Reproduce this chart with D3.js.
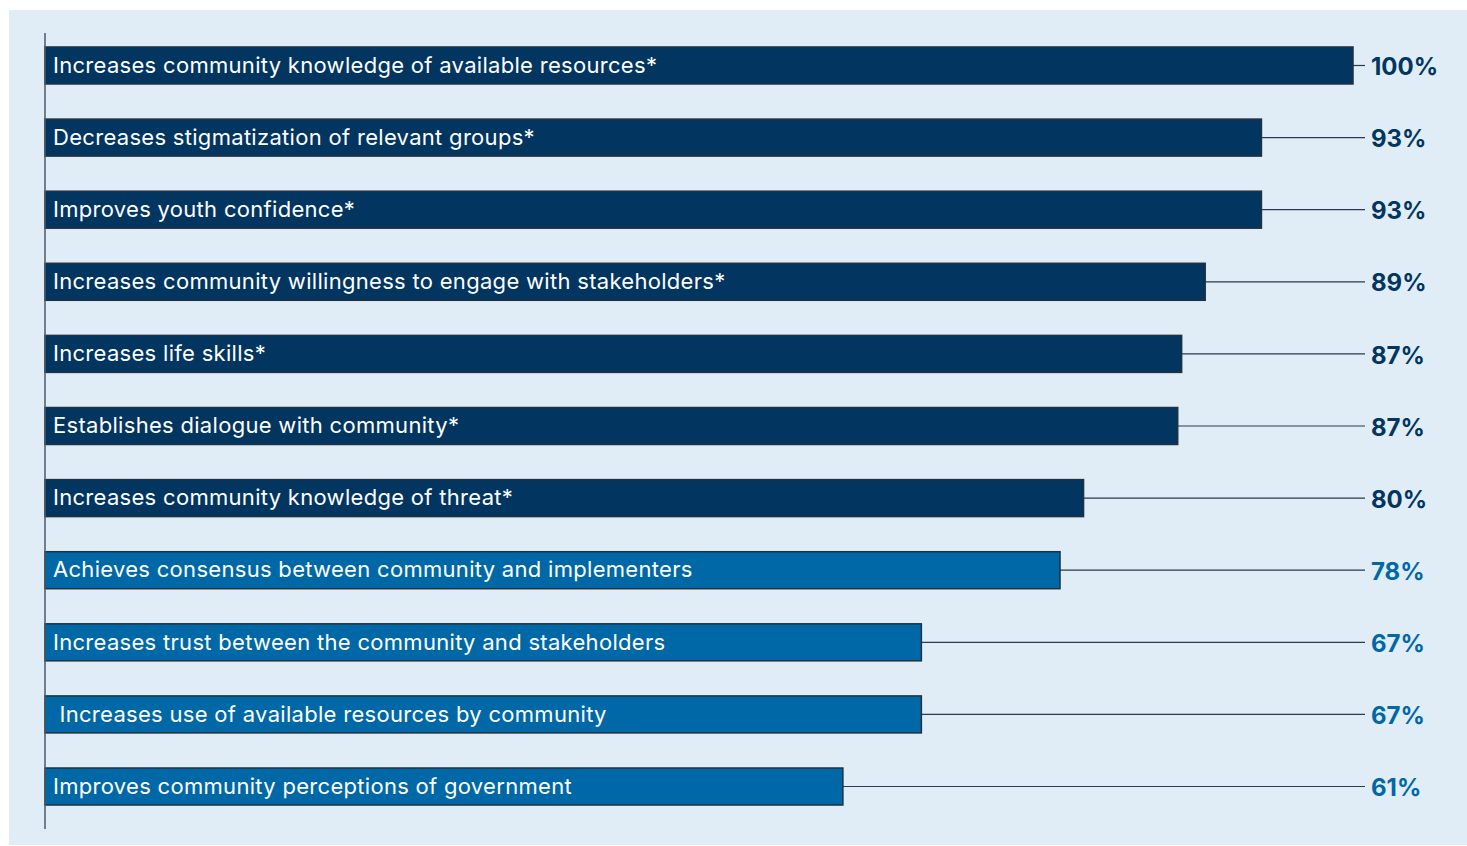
<!DOCTYPE html>
<html>
<head>
<meta charset="utf-8">
<script src="https://cdn.jsdelivr.net/npm/d3@7"></script>
<style>
  body { margin: 0; background: #fff; }
  svg { display: block; }
</style>
</head>
<body>
<svg id="chart" width="1467" height="846"></svg>
<script>
// categories, top to bottom
const categories = [
  "Increases community knowledge of available resources*",
  "Decreases stigmatization of relevant groups*",
  "Improves youth confidence*",
  "Increases community willingness to engage with stakeholders*",
  "Increases life skills*",
  "Establishes dialogue with community*",
  "Increases community knowledge of threat*",
  "Achieves consensus between community and implementers",
  "Increases trust between the community and stakeholders",
  " Increases use of available resources by community",
  "Improves community perceptions of government"
];
// bar lengths (%) as drawn
const shares = [100, 93, 93, 88.7, 86.9, 86.6, 79.4, 77.6, 67, 67, 61];
// printed labels
const shareLabels = ["100%", "93%", "93%", "89%", "87%", "87%", "80%", "78%", "67%", "67%", "61%"];
// starred (significant) items use the dark fill
const starred = [true, true, true, true, true, true, true, false, false, false, false];

const rows = categories.map((c, i) => ({ cat: c, v: shares[i], lab: shareLabels[i], star: starred[i] }));

const svg = d3.select("#chart");
const dark = "#02355f", blue = "#0068a6";

svg.append("rect")
  .attr("x", 9).attr("y", 10)
  .attr("width", 1458).attr("height", 835)
  .attr("fill", "#e0edf6");

const x = d3.scaleLinear().domain([0, 100]).range([45, 1353]);
const y = d3.scaleBand()
  .domain(categories)
  .range([33, 819])
  .paddingInner(0.487)
  .paddingOuter(0.194);

const labelX = 1365;

// leader lines
svg.append("g").selectAll("line")
  .data(rows)
  .join("line")
  .attr("x1", d => x(d.v))
  .attr("x2", labelX)
  .attr("y1", d => y(d.cat) + y.bandwidth() / 2)
  .attr("y2", d => y(d.cat) + y.bandwidth() / 2)
  .attr("stroke", "#2a3a50")
  .attr("stroke-width", 1.2);

// bars
svg.append("g").selectAll("rect")
  .data(rows)
  .join("rect")
  .attr("x", x(0))
  .attr("y", d => y(d.cat))
  .attr("width", d => x(d.v) - x(0))
  .attr("height", y.bandwidth())
  .attr("fill", d => d.star ? dark : blue)
  .attr("stroke", "#23303d")
  .attr("stroke-width", 1.5);

// axis line
svg.append("line")
  .attr("x1", 45).attr("x2", 45)
  .attr("y1", 33).attr("y2", 829)
  .attr("stroke", "#4a5a6a")
  .attr("stroke-width", 1.5);

// category text inside bars
svg.append("g").selectAll("text")
  .data(rows)
  .join("text")
  .attr("x", x(0) + 8)
  .attr("y", d => y(d.cat) + y.bandwidth() / 2)
  .attr("dy", "0.33em")
  .style("white-space", "pre")
  .attr("font-family", "Inter, 'Noto Sans', sans-serif")
  .attr("font-size", 22)
  .attr("letter-spacing", 0.3)
  .attr("fill", "#fff")
  .text(d => d.cat);

// value labels
svg.append("g").selectAll("text")
  .data(rows)
  .join("text")
  .attr("x", labelX + 6)
  .attr("y", d => y(d.cat) + y.bandwidth() / 2 + 1)
  .attr("dy", "0.36em")
  .attr("font-family", "Inter, 'Noto Sans', sans-serif")
  .attr("font-size", 24)
  .attr("font-weight", 700)
  .attr("fill", d => d.star ? dark : blue)
  .text(d => d.lab);
</script>
</body>
</html>
